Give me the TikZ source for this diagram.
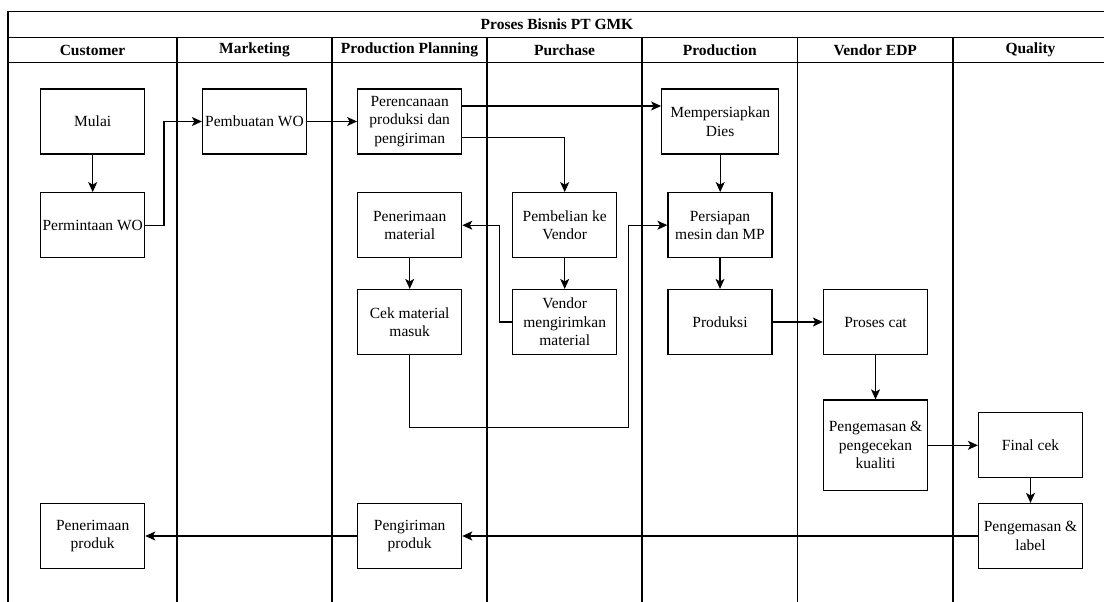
\documentclass[tikz,border=0pt]{standalone}
\usepackage{fontspec}
\setmainfont{Liberation Serif}
\newfontfamily\tmsfont{Liberation Serif}
\usetikzlibrary{arrows.meta}

\begin{document}
\begin{tikzpicture}[x=1pt, y=-1pt,
		box/.style={draw, line width=1.2pt, minimum width=104pt, minimum height=65pt, inner sep=1pt, align=center, font=\tmsfont\fontsize{15.5}{18.5}\selectfont},
		lane/.style={line width=1.1pt},
		flow/.style={line width=1.2pt, -{Stealth[length=10pt, width=9pt, inset=2.5pt]}},
		hdr/.style={font=\tmsfont\bfseries\fontsize{15.5}{18.5}\selectfont}]
		\useasboundingbox (0,0) rectangle (1104,602);
		\clip (0,0) rectangle (1104,602);

		% Kolam
		\draw[lane] (8,610) -- (8,11.3) -- (1108,11.3) -- (1108,610);
		\draw[lane] (8,37.7) -- (1108,37.7);
		\draw[lane] (8,62.7) -- (1108,62.7);
		\foreach \x in {177,332,487,642,797.5,953}
			\draw[lane] (\x,37.7) -- (\x,610);
		\node[hdr] (judul) at (557,24.5) {Proses Bisnis PT GMK};
		\foreach \x/\t [count=\i] in {92.5/Customer, 254.5/Marketing, 409.5/Production Planning, 564.5/Purchase, 719.75/Production, 875.25/Vendor EDP, 1030.5/Quality}
			\node[hdr] (h\i) at (\x,50.2) {\t};

		% Proses
		\node[box] (mulai) at (92.7,121.5) {Mulai};
		\node[box] (permintaan) at (92.7,225.2) {Permintaan WO};
		\node[box] (pembuatan) at (254.5,121.5) {Pembuatan WO};
		\node[box] (perencanaan) at (409.7,121.5) {Perencanaan\\produksi dan\\pengiriman};
		\node[box, minimum width=117pt] (dies) at (720.2,121.5) {Mempersiapkan\\Dies};
		\node[box] (terima) at (409.7,225.2) {Penerimaan\\material};
		\node[box] (cek) at (409.7,322) {Cek material\\masuk};
		\node[box] (beli) at (564.7,225.2) {Pembelian ke\\Vendor};
		\node[box] (kirim) at (564.7,322) {Vendor\\mengirimkan\\material};
		\node[box] (persiapan) at (720,225.2) {Persiapan\\mesin dan MP};
		\node[box] (produksi) at (720,322) {Produksi};
		\node[box] (cat) at (875.5,322) {Proses cat};
		\node[box, minimum height=90.7pt] (cekkual) at (875.5,445.3) {Pengemasan \&\\pengecekan\\kualiti};
		\node[box] (final) at (1030.5,445.3) {Final cek};
		\node[box] (label) at (1030.5,536) {Pengemasan \&\\label};
		\node[box] (kirimprod) at (409.7,536) {Pengiriman\\produk};
		\node[box] (terimaprod) at (92.7,536) {Penerimaan\\produk};

		% Alur
		\draw[flow] (mulai) -- (permintaan);
		\draw[flow] (permintaan.east) -- ++(18.6,0) |- (pembuatan.west);
		\draw[flow] (pembuatan) -- (perencanaan);
		\draw[flow] ([yshift=15.5pt]perencanaan.east) -- ([yshift=15.5pt]dies.west);
		\draw[flow] ([yshift=-16.2pt]perencanaan.east) -| (beli.north);
		\draw[flow] (beli) -- (kirim);
		\draw[flow] (kirim.west) -- ++(-12.7,0) |- (terima.east);
		\draw[flow] (terima) -- (cek);
		\draw[flow] (cek.south) -- ++(0,72) -| ([xshift=-38.7pt]persiapan.west) -- (persiapan.west);
		\draw[flow] (dies.south) -- (dies.south |- persiapan.north);
		\draw[flow] (persiapan) -- (produksi);
		\draw[flow] (produksi) -- (cat);
		\draw[flow] (cat) -- (cekkual);
		\draw[flow] (cekkual) -- (final);
		\draw[flow] (final) -- (label);
		\draw[flow] (label) -- (kirimprod);
		\draw[flow] (kirimprod) -- (terimaprod);
	\end{tikzpicture}
\end{document}
